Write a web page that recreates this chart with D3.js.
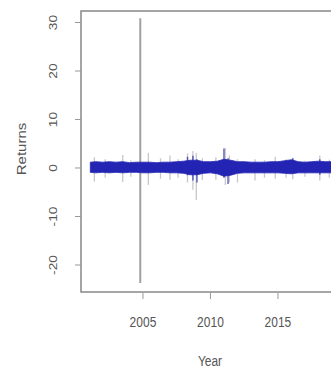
<!DOCTYPE html>
<html>
<head>
<meta charset="utf-8">
<script src="https://cdn.jsdelivr.net/npm/d3@7"></script>
<style>
  body { margin: 0; background: #fff; }
  svg { display: block; font-family: 'Liberation Sans', Arial, sans-serif; }
</style>
</head>
<body>
<svg width="331" height="369"></svg>
<script>
// half-yearly envelope of the blue series (returns, %)
const bandYears = [2001.1, 2001.5, 2002, 2002.5, 2003, 2003.5, 2004, 2004.5, 2005, 2005.5,
  2006, 2006.5, 2007, 2007.5, 2008, 2008.5, 2009, 2009.5, 2010, 2010.5,
  2011, 2011.5, 2012, 2012.5, 2013, 2013.5, 2014, 2014.5, 2015, 2015.5,
  2016, 2016.5, 2017, 2017.5, 2018, 2018.5, 2019, 2019.5, 2020]
const bandHi = [1.2, 1.3, 1.2, 1.3, 1.2, 1.3, 1.1, 1.2, 1.2, 1.2,
  1.1, 1.2, 1.2, 1.3, 1.4, 1.6, 1.6, 1.3, 1.3, 1.4,
  1.8, 1.6, 1.3, 1.3, 1.2, 1.2, 1.2, 1.3, 1.3, 1.5,
  1.7, 1.3, 1.2, 1.3, 1.4, 1.3, 1.3, 1.3, 1.3]
const bandLo = [-0.9, -1.0, -0.9, -1.0, -0.9, -1.0, -0.9, -0.9, -1.0, -1.0,
  -0.9, -0.9, -1.0, -1.0, -1.1, -1.4, -1.4, -1.1, -1.0, -1.2,
  -1.7, -1.5, -1.1, -1.0, -1.0, -1.0, -1.0, -1.0, -1.0, -1.1,
  -1.2, -1.0, -1.0, -1.0, -1.0, -1.0, -1.0, -1.0, -1.0]

// bigger blue moves: [year, high, low]
const blueSpikes = [[2008.3, 2.3, -1.5], [2008.7, 2.5, -2.6], [2009.0, 1.8, -3.0],
  [2011.0, 4.0, -2.0], [2011.3, 2.0, -3.3], [2016.1, 2.0, -1.0], [2018.1, 1.8, -1.4]]

// gray returns spikes: [year, high, low]
const graySpikes = [[2001.4, 2.2, -2.8], [2002.2, 1.8, -2.0], [2003.5, 2.7, -2.9],
  [2004.1, 1.6, -1.8], [2005.4, 3.1, -3.5], [2006.3, 2.0, -2.2], [2007.0, 2.6, -2.4],
  [2007.6, 1.8, -2.0], [2008.3, 3.0, -3.0], [2008.7, 3.5, -4.5], [2008.95, 3.1, -6.6],
  [2009.4, 2.0, -2.5], [2010.4, 2.2, -2.4], [2011.1, 4.1, -3.5], [2011.4, 2.6, -3.0],
  [2012.0, 1.8, -3.0], [2013.3, 1.8, -2.6], [2014.0, 1.6, -2.0], [2014.8, 2.3, -2.2],
  [2015.6, 1.8, -2.0], [2016.1, 2.0, -2.3], [2017.0, 1.5, -1.8], [2018.1, 2.6, -2.6],
  [2018.8, 1.7, -2.0]]

// the one huge outlier
const bigSpike = [[2004.8, 30.9, -23.7]]

const yTicks = [-20, -10, 0, 10, 20, 30]
const xTicks = [2005, 2010, 2015]

const margin = {top: 11, left: 81, bottom: 77}
const width = 331
const height = 369

const svg = d3.select('svg')

const x = d3.scaleLinear()
  .domain([2000.41, 2023.67])
  .range([margin.left, 395])

const y = d3.scaleLinear()
  .domain([-25.57, 32.37])
  .range([height - margin.bottom, margin.top])

const plot = svg.append('g')

// gray returns
plot.selectAll('line.gray')
  .data(graySpikes)
  .join('line')
  .attr('class', 'gray')
  .attr('x1', d => x(d[0])).attr('x2', d => x(d[0]))
  .attr('y1', d => y(d[1])).attr('y2', d => y(d[2]))
  .attr('stroke', '#999')
  .attr('stroke-opacity', 0.55)
  .attr('stroke-width', 1.3)

plot.selectAll('line.big')
  .data(bigSpike)
  .join('line')
  .attr('class', 'big')
  .attr('x1', d => x(d[0])).attr('x2', d => x(d[0]))
  .attr('y1', d => y(d[1])).attr('y2', d => y(d[2]))
  .attr('stroke', '#a0a0a0')
  .attr('stroke-width', 2)

// blue band
const band = bandYears.map((yr, i) => ({yr, hi: bandHi[i], lo: bandLo[i]}))
const area = d3.area()
  .x(d => x(d.yr))
  .y0(d => y(d.lo))
  .y1(d => y(d.hi))

plot.append('path')
  .datum(band)
  .attr('d', area)
  .attr('fill', '#2424b4')
  .attr('stroke', '#2424b4')
  .attr('stroke-width', 0.8)

plot.selectAll('line.blue')
  .data(blueSpikes)
  .join('line')
  .attr('class', 'blue')
  .attr('x1', d => x(d[0])).attr('x2', d => x(d[0]))
  .attr('y1', d => y(d[1])).attr('y2', d => y(d[2]))
  .attr('stroke', '#2424b4')
  .attr('stroke-opacity', 0.7)
  .attr('stroke-width', 1.5)

// box
svg.append('rect')
  .attr('x', x.range()[0])
  .attr('y', margin.top)
  .attr('width', x.range()[1] - x.range()[0])
  .attr('height', y.range()[0] - margin.top)
  .attr('fill', 'none')
  .attr('stroke', '#888')
  .attr('stroke-width', 1.5)

// axes
const stretch = 1.25

const xAxis = svg.append('g')
  .attr('transform', `translate(0, ${y.range()[0]})`)
xAxis.selectAll('line')
  .data(xTicks)
  .join('line')
  .attr('x1', d => x(d)).attr('x2', d => x(d))
  .attr('y1', 1).attr('y2', 7)
  .attr('stroke', '#999')
xAxis.selectAll('g.lbl')
  .data(xTicks)
  .join('g')
  .attr('class', 'lbl')
  .attr('transform', d => `translate(${x(d)}, 30) scale(1, ${stretch})`)
  .append('text')
  .attr('text-anchor', 'middle')
  .attr('dy', '0.35em')
  .attr('font-size', 12)
  .attr('fill', '#555')
  .text(d => d)

const yAxis = svg.append('g')
  .attr('transform', `translate(${margin.left}, 0)`)
yAxis.selectAll('line')
  .data(yTicks)
  .join('line')
  .attr('x1', -6).attr('x2', 0)
  .attr('y1', d => y(d)).attr('y2', d => y(d))
  .attr('stroke', '#999')
yAxis.selectAll('g.lbl')
  .data(yTicks)
  .join('g')
  .attr('class', 'lbl')
  .attr('transform', d => `translate(-28, ${y(d)}) scale(1, ${stretch})`)
  .append('text')
  .attr('transform', 'rotate(-90)')
  .attr('text-anchor', 'middle')
  .attr('dy', '0.35em')
  .attr('font-size', 11)
  .attr('fill', '#555')
  .text(d => d)

// titles
svg.append('g')
  .attr('transform', `translate(210, 361) scale(1, ${stretch})`)
  .append('text')
  .attr('text-anchor', 'middle')
  .attr('dy', '0.35em')
  .attr('font-size', 12)
  .attr('fill', '#555')
  .text('Year')

svg.append('g')
  .attr('transform', `translate(22, 149) scale(1, ${stretch})`)
  .append('text')
  .attr('transform', 'rotate(-90)')
  .attr('text-anchor', 'middle')
  .attr('dy', '0.35em')
  .attr('font-size', 12)
  .attr('fill', '#555')
  .text('Returns')
</script>
</body>
</html>
